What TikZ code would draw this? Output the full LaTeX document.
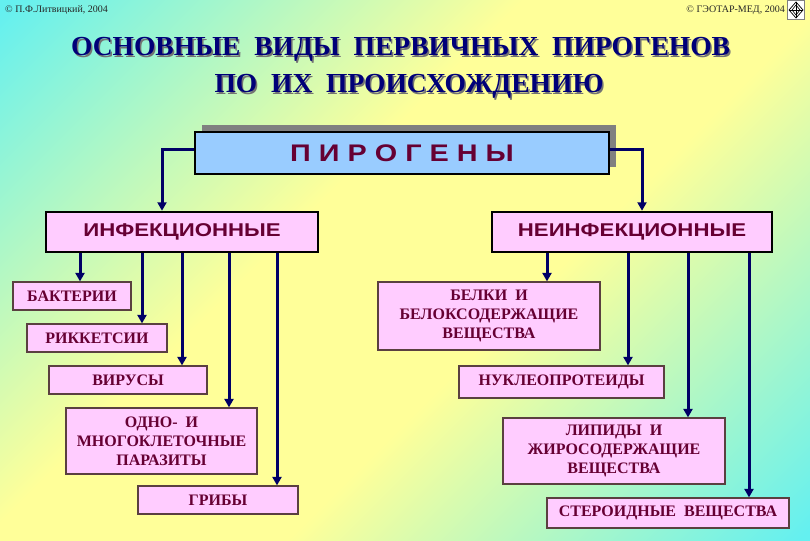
\documentclass[tikz,border=0pt]{standalone}
\usepackage{fontspec}
\setmainfont{Liberation Serif}
\newfontfamily\hsans{Liberation Sans}[FakeStretch=1.2]
\usetikzlibrary{arrows.meta}
\definecolor{bgc}{RGB}{100,240,240}
\definecolor{bgy}{RGB}{255,255,153}
\definecolor{navy}{RGB}{0,0,102}
\definecolor{maroon}{RGB}{102,0,51}
\definecolor{pinkf}{RGB}{255,204,255}
\definecolor{bluef}{RGB}{153,204,255}
\definecolor{titleblue}{RGB}{0,0,120}
\definecolor{smallborder}{RGB}{90,64,64}
\pgfdeclarehorizontalshading{bgshade}{100bp}{color(0bp)=(bgc); color(15bp)=(bgc); color(42bp)=(bgy); color(58bp)=(bgy); color(85bp)=(bgc); color(100bp)=(bgc)}
\begin{document}
\begin{tikzpicture}[x=1pt,y=-1pt,
  titletext/.style={font=\bfseries\fontsize{27.5}{33}\selectfont, text=titleblue, anchor=base, inner sep=0},
  titleshadow/.style={font=\bfseries\fontsize{27.5}{33}\selectfont, text=black!55, anchor=base, inner sep=0},
  bigbox/.style={draw=black, line width=2.5pt, fill=pinkf, inner sep=0, text=maroon,
     font=\hsans\bfseries\fontsize{18.5}{22}\selectfont},
  smallbox/.style={draw=smallborder, line width=1.2pt, fill=pinkf, inner sep=0, text=maroon, align=center,
     font=\bfseries\fontsize{16}{19}\selectfont},
  arr/.style={draw=navy, line width=3pt, -{Triangle[length=8.5pt,width=9pt]}},
  copy/.style={font=\fontsize{10}{12}\selectfont, inner sep=0, text=black!85}
]
\useasboundingbox (0,0) rectangle (810,540);
\fill[shading=bgshade, shading angle=-45] (0,0) rectangle (810,540);

% copyright lines
\node[copy, anchor=base west] (cr1) at (5,13) {© П.Ф.Литвицкий, 2004};
\node[copy, anchor=base east] (cr2) at (785,13) {© ГЭОТАР-МЕД, 2004};
\node[draw=black!50, fill=white, line width=0.5pt, minimum width=17pt, minimum height=19pt, inner sep=0] (logo) at (796,10) {};
\draw[black, line width=0.7pt] (logo.center) +(-7,0) -- +(0,-8) -- +(7,0) -- +(0,8) -- cycle;
\draw[black, line width=0.6pt] (logo.center) +(-4,0) -- +(0,-5) -- +(4,0) -- +(0,5) -- cycle;
\draw[black, line width=0.6pt] (logo.center) +(-7,0) -- +(7,0) (logo.center) +(0,-8) -- +(0,8);

% title
\node[titleshadow] (t1s) at (402,57.5) {ОСНОВНЫЕ\ \ ВИДЫ\ \ ПЕРВИЧНЫХ\ \ ПИРОГЕНОВ};
\node[titletext] (t1) at (400.5,56) {ОСНОВНЫЕ\ \ ВИДЫ\ \ ПЕРВИЧНЫХ\ \ ПИРОГЕНОВ};
\node[titleshadow] (t2s) at (410.5,94.5) {ПО\ \ ИХ\ \ ПРОИСХОЖДЕНИЮ};
\node[titletext] (t2) at (409,93) {ПО\ \ ИХ\ \ ПРОИСХОЖДЕНИЮ};

% pirogeny
\fill[black!50] (202,125) rectangle (616,167);
\node[draw=black, line width=2.5pt, fill=bluef, inner sep=0, minimum width=414pt, minimum height=42pt,
  text=maroon, font=\hsans\bfseries\fontsize{24}{28}\selectfont] (pir) at (402,153)
  {П\hspace{8pt}И\hspace{8pt}Р\hspace{8pt}О\hspace{8pt}Г\hspace{8pt}Е\hspace{8pt}Н\hspace{8pt}Ы};

\node[bigbox, minimum width=272pt, minimum height=40pt] (inf) at (182,232) {ИНФЕКЦИОННЫЕ};
\node[bigbox, minimum width=280pt, minimum height=40pt] (neinf) at (632,232) {НЕИНФЕКЦИОННЫЕ};

\coordinate (cL) at (162,0);
\coordinate (cR) at (642,0);
\draw[arr] ([yshift=3pt]pir.west) -| (inf.north -| cL);
\draw[arr] ([yshift=3pt]pir.east) -| (neinf.north -| cR);

% left children
\node[smallbox, minimum width=118pt, minimum height=28pt] (bact) at (72,296) {БАКТЕРИИ};
\node[smallbox, minimum width=140pt, minimum height=28pt] (rick) at (97,338) {РИККЕТСИИ};
\node[smallbox, minimum width=158pt, minimum height=28pt] (vir) at (128,380) {ВИРУСЫ};
\node[smallbox, minimum width=191pt, minimum height=66pt] (para) at (161.5,441) {ОДНО-\ \ И\\МНОГОКЛЕТОЧНЫЕ\\ПАРАЗИТЫ};
\node[smallbox, minimum width=160pt, minimum height=28pt] (grib) at (218,500) {ГРИБЫ};

\coordinate (a1) at (80,0);
\coordinate (a2) at (142,0);
\coordinate (a3) at (182,0);
\coordinate (a4) at (229,0);
\coordinate (a5) at (277,0);
\draw[arr] (inf.south -| a1) -- (bact.north -| a1);
\draw[arr] (inf.south -| a2) -- (rick.north -| a2);
\draw[arr] (inf.south -| a3) -- (vir.north -| a3);
\draw[arr] (inf.south -| a4) -- (para.north -| a4);
\draw[arr] (inf.south -| a5) -- (grib.north -| a5);

% right children
\node[smallbox, minimum width=222pt, minimum height=68pt] (belk) at (489,316) {БЕЛКИ\ \ И\\БЕЛОКСОДЕРЖАЩИЕ\\ВЕЩЕСТВА};
\node[smallbox, minimum width=205pt, minimum height=32pt] (nukl) at (561.5,382) {НУКЛЕОПРОТЕИДЫ};
\node[smallbox, minimum width=222pt, minimum height=66pt] (lip) at (614,451) {ЛИПИДЫ\ \ И\\ЖИРОСОДЕРЖАЩИЕ\\ВЕЩЕСТВА};
\node[smallbox, minimum width=242pt, minimum height=30pt] (ster) at (668,513) {СТЕРОИДНЫЕ\ \ ВЕЩЕСТВА};

\coordinate (b1) at (547,0);
\coordinate (b2) at (628,0);
\coordinate (b3) at (688,0);
\coordinate (b4) at (749,0);
\draw[arr] (neinf.south -| b1) -- (belk.north -| b1);
\draw[arr] (neinf.south -| b2) -- (nukl.north -| b2);
\draw[arr] (neinf.south -| b3) -- (lip.north -| b3);
\draw[arr] (neinf.south -| b4) -- (ster.north -| b4);
\end{tikzpicture}
\end{document}
